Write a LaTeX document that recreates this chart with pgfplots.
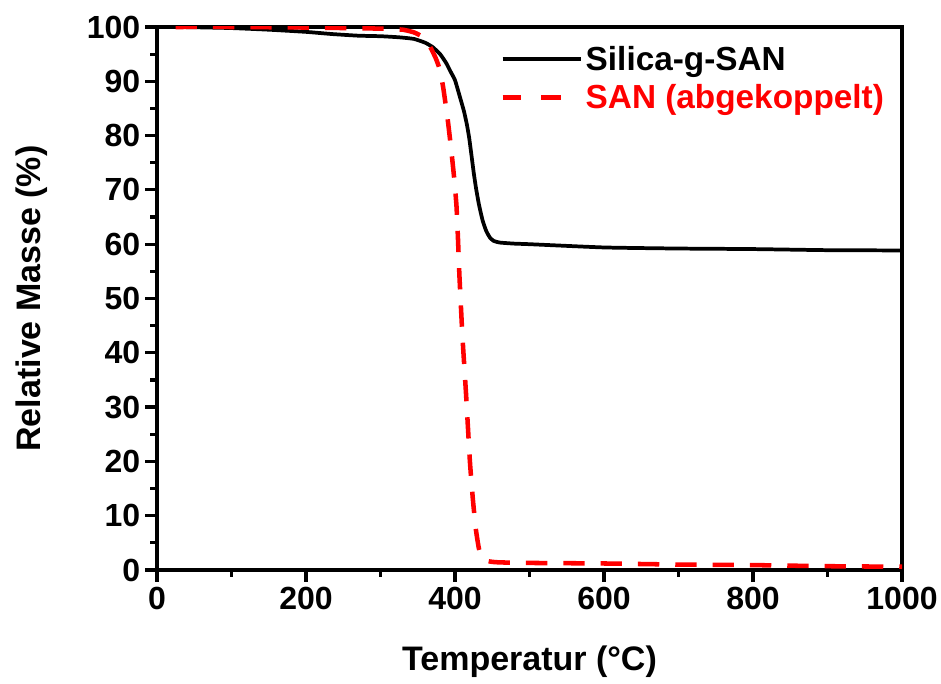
\documentclass[border=0pt]{standalone}
\usepackage{pgfplots}
\pgfplotsset{compat=1.18}
\usepackage{fontspec}
\setmainfont{Liberation Sans}

\begin{document}
\begin{tikzpicture}
\begin{axis}[
  name=ax,
  scale only axis,
  width=558.75pt, height=407.25pt,
  xmin=0, xmax=1000, ymin=0, ymax=100,
  axis line style={line width=2.4pt},
  xtick={0,200,...,1000}, ytick={0,10,...,100},
  minor xtick={100,300,...,900}, minor ytick={5,15,...,95},
  tick align=outside, tick pos=left,
  major tick length=9pt, minor tick length=5pt,
  every tick/.style={line width=2.4pt, black},
  /pgf/number format/assume math mode=true,
  /pgf/number format/1000 sep={},
  tick label style={font=\bfseries\fontsize{24}{24}\selectfont},
  xlabel={Temperatur (°C)}, ylabel={Relative Masse (\%)},
  label style={font=\bfseries\fontsize{25.5}{25.5}\selectfont},
  xlabel style={at={(axis description cs:0.5,-0.1697)}, anchor=center},
  ylabel style={at={(axis description cs:-0.168,0.5)}, anchor=center},
  legend style={draw=none, fill=none, at={(0.985,0.975)}, anchor=north east,
    font=\bfseries\fontsize{25}{27}\selectfont, row sep=5pt},
  legend cell align=left,
]
\addplot[black, line width=2.8pt, smooth, tension=0.3,
  legend image code/.code={\draw[black, line width=2.8pt] (0pt,0pt) -- (59pt,0pt);}]
  coordinates {
(25,100) (50,99.95) (100,99.8) (150,99.5) (200,99.1) (235,98.7) (270,98.4)
(300,98.3) (325,98.1) (345,97.8) (360,97.1) (370,96.3) (380,95.0) (388,93.4)
(394,91.8) (400,90.2) (406,87.4) (412,84.5) (416,82) (419,79.6) (422,76.5)
(425,73.3) (428,70.5) (432,67.4) (437,64.4) (442,62.4) (447,61.2) (452,60.6)
(460,60.3) (480,60.1) (500,60.0) (600,59.4) (700,59.2) (800,59.1) (900,58.9)
(1000,58.85)
};
\addlegendentry{Silica-g-SAN}
\addplot[red, line width=3.4pt, dash pattern=on 16pt off 12pt, smooth, tension=0.3,
  legend image code/.code={\draw[red, line width=3.4pt] (0pt,0pt) -- (14pt,0pt) (29pt,0pt) -- (44pt,0pt);}]
  coordinates {
(25,100) (100,100) (200,99.9) (300,99.7) (330,99.5) (345,99.0) (355,98.3)
(362,97.3) (368,96) (374,94.3) (379,92.4) (384,89) (390,83.2) (395,77.3)
(399,72) (402,67) (404,61) (406,54) (410,43) (415,32) (420,20) (424,13)
(428,7.5) (432,4) (436,2.3) (442,1.7) (450,1.5) (460,1.4) (500,1.3) (600,1.2)
(700,1.0) (800,0.9) (900,0.7) (1000,0.6)
};
\addlegendentry{\textcolor{red}{SAN (abgekoppelt)}}
\end{axis}
\pgfresetboundingbox
\useasboundingbox ([xshift=-117.75pt,yshift=-85.5pt]ax.south west)
  rectangle ([xshift=29.25pt,yshift=20.25pt]ax.north east);
\end{tikzpicture}
\end{document}
